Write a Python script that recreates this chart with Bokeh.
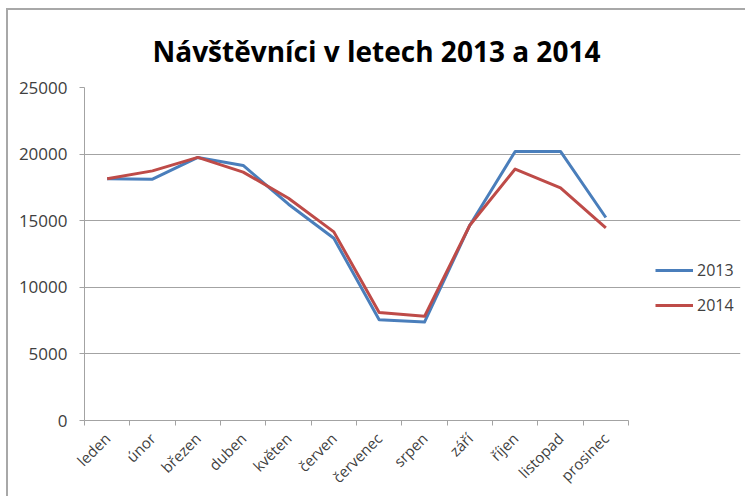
from bokeh.plotting import figure
from bokeh.models import (ColumnDataSource, FixedTicker, Range1d, Legend, LegendItem, Title)
from bokeh.embed import file_html
from bokeh.resources import INLINE

months = ["leden", "únor", "březen", "duben", "květen", "červen",
          "červenec", "srpen", "září", "říjen", "listopad", "prosinec"]
v2013 = [18150, 18120, 19750, 19150, 16240, 13680, 7570, 7390, 14660, 20200, 20200, 15240]
v2014 = [18150, 18740, 19750, 18650, 16690, 14160, 8100, 7820, 14660, 18880, 17470, 14460]
y_ticks = [0, 5000, 10000, 15000, 20000, 25000]
series_names = ["2013", "2014"]

n = len(months)
xs = [i + 0.5 for i in range(n)]
src = ColumnDataSource(dict(x=xs, m=months, a=v2013, b=v2014))

FONT = "Open Sans"
TXT = "#404040"
GRID = "#a3a3a3"

PLOT_W = 544      # width of the category area in px
FRAME_W = 656     # frame also holds the legend on its right
x_end = n * FRAME_W / PLOT_W

p = figure(frame_width=FRAME_W, frame_height=333, output_backend="svg", toolbar_location=None,
           x_range=Range1d(0, x_end), y_range=Range1d(y_ticks[0], y_ticks[-1]),
           min_border_left=76, min_border_right=5, min_border_top=77, min_border_bottom=70,
           title=None)
p.outline_line_color = None
p.styles = {"margin-left": "6px", "margin-top": "8px",
            "border-left": "2px solid #a8a8a8", "border-top": "2px solid #a8a8a8"}

t = Title(text="Návštěvníci v letech 2013 a 2014", align="left", offset=68,
          text_font=FONT, text_font_size="28px", text_font_style="bold",
          text_color="#000000", standoff=36)
p.add_layout(t, "above")

r1 = p.line("x", "a", source=src, line_color="#4a7ebb", line_width=3, line_join="round")
r2 = p.line("x", "b", source=src, line_color="#be4b48", line_width=3, line_join="round")

# x axis
p.xaxis.ticker = FixedTicker(ticks=xs, minor_ticks=list(range(n + 1)))
p.xaxis.bounds = (0, n)
p.xaxis.major_label_overrides = {x: m for x, m in zip(xs, months)}
p.xaxis.major_label_orientation = 0.785398
p.xaxis.major_tick_out = 0
p.xaxis.major_tick_in = 0
p.xaxis.minor_tick_out = 5
p.xaxis.minor_tick_in = 0
p.xaxis.minor_tick_line_color = GRID
p.xaxis.axis_line_color = GRID
p.xaxis.major_label_text_font = FONT
p.xaxis.major_label_text_font_size = "15px"
p.xaxis.major_label_text_color = TXT
p.xaxis.major_label_standoff = 10
p.xgrid.grid_line_color = None

# y axis
p.yaxis.ticker = FixedTicker(ticks=y_ticks)
p.yaxis.major_tick_out = 5
p.yaxis.major_tick_in = 0
p.yaxis.minor_tick_line_color = None
p.yaxis.major_tick_line_color = GRID
p.yaxis.axis_line_color = GRID
p.yaxis.major_label_text_font = FONT
p.yaxis.major_label_text_font_size = "17px"
p.yaxis.major_label_text_color = TXT
p.yaxis.major_label_standoff = 12
p.ygrid.grid_line_color = GRID
p.ygrid.grid_line_width = 1
p.ygrid.bounds = (0, n)

legend = Legend(items=[LegendItem(label=series_names[0], renderers=[r1]),
                       LegendItem(label=series_names[1], renderers=[r2])],
                location=(571, 104), border_line_color=None, background_fill_alpha=0,
                glyph_width=38, glyph_height=20, label_height=20, spacing=13,
                padding=0, margin=0, label_standoff=4,
                label_text_font=FONT, label_text_font_size="16px", label_text_color=TXT)
p.add_layout(legend, "center")

open("out.html", "w").write(file_html(p, INLINE))
